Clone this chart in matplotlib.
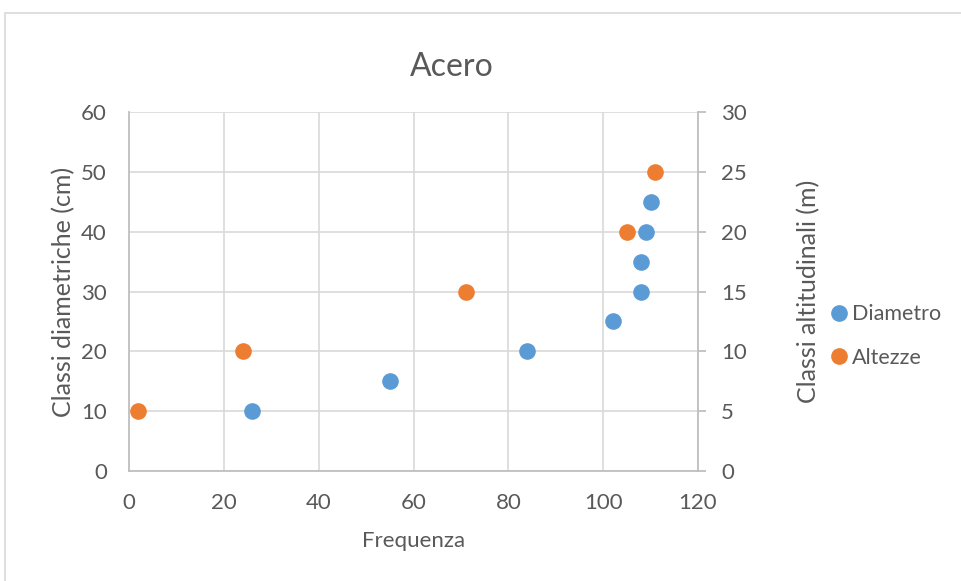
import matplotlib.pyplot as plt
from matplotlib.patches import Rectangle
from matplotlib.lines import Line2D

# Diametro series (left axis, cm)
diam_freq = [26, 55, 84, 102, 108, 108, 109, 110]
diam_cm = [10, 15, 20, 25, 30, 35, 40, 45]

# Altezze series (right axis, m)
alt_freq = [2, 24, 71, 105, 111]
alt_m = [5, 10, 15, 20, 25]

x_ticks = [0, 20, 40, 60, 80, 100, 120]
left_ticks = [0, 10, 20, 30, 40, 50, 60]
right_ticks = [0, 5, 10, 15, 20, 25, 30]

blue = '#5B9BD5'
orange = '#ED7D31'
text_col = '#595959'
grid_col = '#D9D9D9'
axis_col = '#BFBFBF'

plt.rcParams['font.family'] = ['Lato', 'DejaVu Sans']

fig = plt.figure(figsize=(9.61, 5.81), dpi=100)
ax1 = fig.add_axes([129/961, 1 - 471/581, (698 - 129)/961, (471 - 112)/581])
ax2 = ax1.twinx()

# outer chart border
fig.patches.append(Rectangle((5/961, -0.1), 2, 1.1 - 13/581, transform=fig.transFigure,
                             fill=False, edgecolor=grid_col, linewidth=1.2))

ax1.scatter(diam_freq, diam_cm, s=120, color=blue, zorder=3, clip_on=False)
ax2.scatter(alt_freq, alt_m, s=120, color=orange, zorder=3, clip_on=False)

ax1.set_xlim(0, 120)
ax1.set_ylim(0, 60)
ax2.set_ylim(0, 30)
ax1.set_xticks(x_ticks)
ax1.set_yticks(left_ticks)
ax2.set_yticks(right_ticks)

ax1.grid(True, color=grid_col, linewidth=1.2)
ax1.set_axisbelow(True)

for ax in (ax1, ax2):
    ax.spines['top'].set_visible(False)
    for side in ('left', 'bottom', 'right'):
        ax.spines[side].set_color(axis_col)
        ax.spines[side].set_linewidth(1.3)
ax1.spines['right'].set_visible(False)
ax2.spines['left'].set_visible(False)
ax2.spines['bottom'].set_visible(False)

ax1.tick_params(axis='y', length=0, labelsize=16, labelcolor=text_col, pad=16)
ax1.tick_params(axis='x', length=0, labelsize=16, labelcolor=text_col, pad=16)
ax2.tick_params(axis='y', length=5.5, width=1.3, color=axis_col, labelsize=16,
                labelcolor=text_col, pad=11)

ax1.set_xlabel('Frequenza', fontsize=16, color=text_col, labelpad=13)
ax1.set_ylabel('Classi diametriche (cm)', fontsize=18, color=text_col, labelpad=4)
ax2.set_ylabel('Classi altitudinali (m)', fontsize=18, color=text_col, labelpad=36)
fig.text(452/961, 1 - 67/581, 'Acero', fontsize=23, color=text_col, ha='center', va='center')

handles = [Line2D([], [], marker='o', linestyle='', markersize=11, color=blue),
           Line2D([], [], marker='o', linestyle='', markersize=11, color=orange)]
fig.legend(handles, ['Diametro', 'Altezze'], loc='center left',
           bbox_to_anchor=(807/961, 1 - 336/581), frameon=False, fontsize=15.5,
           labelcolor=text_col, handletextpad=0.0, labelspacing=1.1, handlelength=1.2)

fig.savefig('out.png', dpi=100, facecolor='white')
